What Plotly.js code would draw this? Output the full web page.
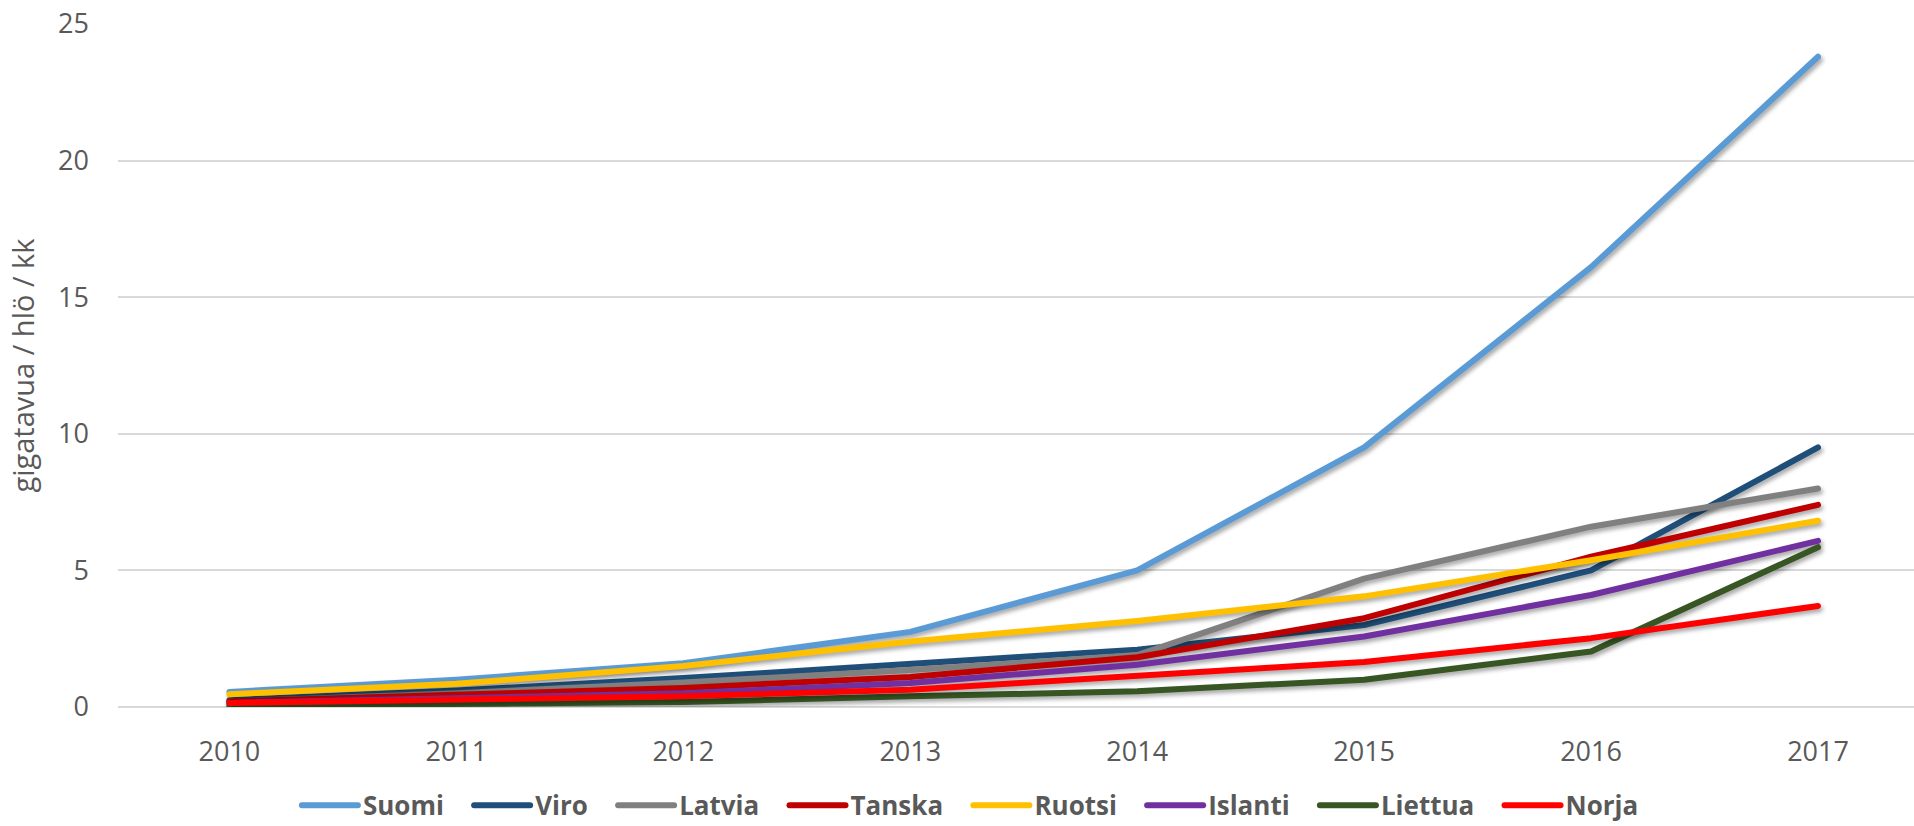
<!DOCTYPE html>
<html>
<head>
<meta charset="utf-8">
<script src="https://cdn.plot.ly/plotly-3.0.1.min.js"></script>
<style>
  html, body { margin: 0; padding: 0; background: #ffffff; }
  #chart { width: 1914px; height: 826px; }
  .scatterlayer .trace { filter: drop-shadow(2px 3px 2px rgba(0,0,0,0.35)); }
  .scatterlayer path.js-line { stroke-linecap: round; stroke-linejoin: round; }
  .legendlines path { stroke-linecap: round; }
</style>
</head>
<body>
<div id="chart"></div>
<script>
// Categories (years)
const years = ["2010", "2011", "2012", "2013", "2014", "2015", "2016", "2017"];

// Series values: gigatavua / hlö / kk
const suomi   = [0.55, 1.00, 1.60, 2.75, 5.00, 9.50, 16.10, 23.80];
const viro    = [0.25, 0.60, 1.06, 1.58, 2.10, 3.00, 5.00, 9.50];
const latvia  = [0.20, 0.50, 0.90, 1.35, 1.90, 4.70, 6.60, 8.00];
const tanska  = [0.20, 0.45, 0.70, 1.10, 1.82, 3.25, 5.50, 7.40];
const ruotsi  = [0.47, 0.85, 1.50, 2.40, 3.15, 4.05, 5.37, 6.82];
const islanti = [0.15, 0.33, 0.50, 0.88, 1.55, 2.58, 4.10, 6.08];
const liettua = [0.05, 0.10, 0.18, 0.39, 0.58, 1.00, 2.03, 5.85];
const norja   = [0.15, 0.27, 0.39, 0.63, 1.12, 1.65, 2.52, 3.70];

const seriesNames = ["Suomi", "Viro", "Latvia", "Tanska", "Ruotsi", "Islanti", "Liettua", "Norja"];
const seriesValues = [suomi, viro, latvia, tanska, ruotsi, islanti, liettua, norja];
const seriesColors = ["#5B9BD5", "#1F4E79", "#808080", "#C00000", "#FFC000", "#7030A0", "#375623", "#FF0000"];

const yTicks = [0, 5, 10, 15, 20, 25];
const yTitle = "gigatavua / hlö / kk";

// trailing no-break spaces widen the gap between legend entries
const legendGap = "\u00a0\u00a0\u00a0";

const traces = seriesNames.map((name, i) => ({
  type: "scatter",
  mode: "lines",
  name: name + (i < seriesNames.length - 1 ? legendGap : ""),
  x: years,
  y: seriesValues[i],
  line: { color: seriesColors[i], width: 6, shape: "linear" },
  hovertemplate: name + ": %{y}<extra></extra>"
}));

const font = "'Open Sans', 'Noto Sans', sans-serif";

const layout = {
  width: 1914,
  height: 826,
  paper_bgcolor: "#ffffff",
  plot_bgcolor: "#ffffff",
  margin: { l: 118, r: 0, t: 24, b: 119, pad: 0 },
  font: { family: font, color: "#595959", size: 27 },
  showlegend: true,
  legend: {
    orientation: "h",
    xref: "container",
    yref: "container",
    x: 0.507,
    xanchor: "center",
    y: 0.025,
    yanchor: "middle",
    font: { family: font, size: 26, color: "#595959", weight: "bold" },
    itemwidth: 56,
    tracegroupgap: 0,
    borderwidth: 0,
    bgcolor: "rgba(0,0,0,0)"
  },
  xaxis: {
    type: "category",
    range: [-0.491, 7.423],
    showgrid: false,
    zeroline: false,
    showline: false,
    ticks: "",
    ticklabelstandoff: 26,
    tickfont: { family: font, size: 27, color: "#595959" },
    fixedrange: true
  },
  yaxis: {
    range: [0, 25],
    tickvals: yTicks,
    ticktext: yTicks.map(String),
    showgrid: true,
    gridcolor: "#D9D9D9",
    gridwidth: 2,
    zeroline: true,
    zerolinecolor: "#D9D9D9",
    zerolinewidth: 2,
    showline: false,
    ticks: "",
    ticklabelstandoff: 28,
    tickfont: { family: font, size: 27, color: "#595959" },
    title: { text: yTitle, font: { family: font, size: 29, color: "#595959" }, standoff: 14 },
    automargin: false,
    fixedrange: true
  }
};

Plotly.newPlot("chart", traces, layout, { displayModeBar: false, responsive: false });
</script>
</body>
</html>
